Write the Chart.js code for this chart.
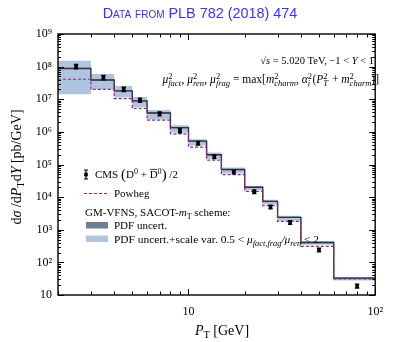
<!DOCTYPE html>
<html>
<head>
<meta charset="utf-8">
<script src="https://cdn.jsdelivr.net/npm/chart.js@4/dist/chart.umd.min.js"></script>
<style>
  html, body { margin: 0; padding: 0; background: #fff; }
  #c { display: block; }
</style>
</head>
<body>
<canvas id="c" width="393" height="342"></canvas>
<script>
// bin edges in P_T (GeV)
const binEdges = [2, 3, 4, 5, 6, 8, 10, 12.5, 15, 20, 25, 30, 40, 60, 100];
// CMS data points (bin centres)
const cmsPt = [2.5, 3.5, 4.5, 5.5, 7, 9, 11.25, 13.75, 17.5, 22.5, 27.5, 35, 50, 80];
const cmsValues = [1.01e8, 4.65e7, 2.03e7, 9.5e6, 3.6e6, 1.1e6, 4.5e5, 1.75e5, 5.9e4, 1.48e4, 5.0e3, 1.68e3, 243, 19];
const cmsErrors = [1.6e7, 7e6, 3e6, 1.4e6, 5e5, 1.6e5, 6e4, 2.3e4, 7.5e3, 1.9e3, 650, 220, 32, 2.6];
// GM-VFNS central + bands
const gmvfns = [8.8e7, 3.9e7, 1.8e7, 8.9e6, 3.8e6, 1.35e6, 5.2e5, 2.0e5, 7.0e4, 2.0e4, 7.4e3, 2.4e3, 407, 33];
const pdfUp = [9.2e7, 4.08e7, 1.88e7, 9.3e6, 3.97e6, 1.41e6, 5.43e5, 2.09e5, 7.3e4, 2.09e4, 7.73e3, 2.51e3, 425, 34.5];
const pdfDown = [8.4e7, 3.72e7, 1.72e7, 8.5e6, 3.63e6, 1.29e6, 4.97e5, 1.91e5, 6.7e4, 1.91e4, 7.07e3, 2.29e3, 389, 31.5];
const scaleUp = [1.51e8, 5.9e7, 2.57e7, 1.18e7, 4.7e6, 1.6e6, 5.9e5, 2.35e5, 8.1e4, 2.2e4, 8.3e3, 2.7e3, 445, 35.5];
const scaleDown = [1.43e7, 2.03e7, 1.13e7, 5.6e6, 2.4e6, 9.5e5, 3.8e5, 1.5e5, 5.3e4, 1.65e4, 5.9e3, 1.9e3, 345, 28];
// Powheg
const powheg = [4.1e7, 2.0e7, 1.05e7, 5.2e6, 2.3e6, 8.7e5, 3.4e5, 1.37e5, 4.9e4, 1.5e4, 5.5e3, 1.8e3, 309, 31];
// axis ticks
const xMajor = [10, 100];
const yMajor = [10, 1e2, 1e3, 1e4, 1e5, 1e6, 1e7, 1e8, 1e9];
const supDigits = {'1': '', '2': '²', '3': '³', '4': '⁴', '5': '⁵', '6': '⁶', '7': '⁷', '8': '⁸', '9': '⁹'};

const LIGHT = '#afc4df';
const DARK = '#6e7f93';
const LINE = '#333333';
const PURPLE = '#8e2a8e';
const SERIF = '"Liberation Serif", "DejaVu Serif", serif';
const SUB = 0.74;

// histogram steps: one point per bin edge
function steps(vals) {
    return binEdges.map((x, i) => ({x: x, y: vals[Math.min(i, vals.length - 1)]}));
}

function logLabel(v) {
    const e = Math.round(Math.log10(v));
    return e === 1 ? '10' : '10' + supDigits[String(e)];
}

// rich text: segments [text, flags] ; i=italic, u=sup, d=sub, o=overline, b=big
function richWidth(ctx, segs, size) {
    let w = 0;
    segs.forEach(s => { w += segW(ctx, s, size); });
    return w;
}
function segFont(flags, size) {
    let sz = size;
    if (flags.includes('u') || flags.includes('d')) sz = size * SUB;
    if (flags.includes('b')) sz = size * 1.35;
    return (flags.includes('i') ? 'italic ' : '') + sz.toFixed(1) + 'px ' + SERIF;
}
function segW(ctx, s, size) {
    const flags = s[1] || '';
    if (flags === 'ud') {
        const parts = s[0].split('|');
        ctx.font = segFont('u', size);
        const a = ctx.measureText(parts[0]).width;
        ctx.font = segFont('d', size);
        const b = ctx.measureText(parts[1]).width;
        return Math.max(a, b) + 0.5;
    }
    ctx.font = segFont(flags, size);
    return ctx.measureText(s[0]).width;
}
function drawRich(ctx, segs, x, y, align, size) {
    const total = richWidth(ctx, segs, size);
    let cx = x;
    if (align === 'right') cx = x - total;
    if (align === 'center') cx = x - total / 2;
    ctx.textAlign = 'left';
    ctx.textBaseline = 'alphabetic';
    segs.forEach(s => {
        const flags = s[1] || '';
        const w = segW(ctx, s, size);
        if (flags === 'ud') {
            const parts = s[0].split('|');
            ctx.font = segFont('u', size);
            ctx.fillText(parts[0], cx, y - size * 0.38);
            ctx.font = segFont('id', size);
            ctx.fillText(parts[1], cx, y + size * 0.24);
        } else {
            ctx.font = segFont(flags, size);
            let dy = 0;
            if (flags.includes('u')) dy = -size * 0.38;
            if (flags.includes('d')) dy = size * 0.24;
            if (flags.includes('b')) dy = size * 0.12;
            ctx.fillText(s[0], cx, y + dy);
            if (flags.includes('o')) {
                ctx.save();
                ctx.lineWidth = 0.8;
                ctx.beginPath();
                ctx.moveTo(cx + 0.5, y - size * 0.78);
                ctx.lineTo(cx + w - 0.5, y - size * 0.78);
                ctx.stroke();
                ctx.restore();
            }
        }
        cx += w;
    });
}

const decorPlugin = {
    id: 'decor',
    afterDatasetsDraw(chart) {
        const ctx = chart.ctx;
        const xs = chart.scales.x, ys = chart.scales.y;
        const a = chart.chartArea;
        ctx.save();

        // CMS error bars
        ctx.strokeStyle = '#000';
        ctx.fillStyle = '#000';
        ctx.lineWidth = 1.3;
        cmsPt.forEach((pt, i) => {
            const px = xs.getPixelForValue(pt);
            const py = ys.getPixelForValue(cmsValues[i]);
            const y1 = ys.getPixelForValue(cmsValues[i] + cmsErrors[i]);
            const y2 = ys.getPixelForValue(cmsValues[i] - cmsErrors[i]);
            ctx.beginPath();
            ctx.moveTo(px, y1); ctx.lineTo(px, y2);
            ctx.moveTo(px - 2.2, y1); ctx.lineTo(px + 2.2, y1);
            ctx.moveTo(px - 2.2, y2); ctx.lineTo(px + 2.2, y2);
            ctx.stroke();
            ctx.fillRect(px - 1.8, py - 1.8, 3.6, 3.6);
        });

        // frame
        ctx.strokeStyle = '#000';
        ctx.lineWidth = 1.4;
        ctx.strokeRect(a.left, a.top, a.right - a.left, a.bottom - a.top);

        // inward ticks
        ctx.lineWidth = 1;
        ctx.beginPath();
        for (let d = 1; d <= 100; d *= 10) {
            for (let m = 1; m <= 9; m++) {
                const v = m * d;
                if (v < 2 || v > 100) continue;
                const px = Math.round(xs.getPixelForValue(v)) + 0.5;
                const len = m === 1 ? 6 : 3.5;
                ctx.moveTo(px, a.bottom); ctx.lineTo(px, a.bottom - len);
                ctx.moveTo(px, a.top); ctx.lineTo(px, a.top + len);
            }
        }
        for (let d = 10; d <= 1e9; d *= 10) {
            for (let m = 1; m <= 9; m++) {
                const v = m * d;
                if (v > 1e9) continue;
                const py = Math.round(ys.getPixelForValue(v)) + 0.5;
                const len = m === 1 ? 6 : 3;
                ctx.moveTo(a.left, py); ctx.lineTo(a.left + len, py);
                ctx.moveTo(a.right, py); ctx.lineTo(a.right - len, py);
            }
        }
        ctx.stroke();

        // title, sized to span the same width as the original
        const title = 'Data from PLB 782 (2018) 474';
        let ts = 14;
        ctx.font = 'small-caps ' + ts + 'px "Liberation Sans", Arial, sans-serif';
        ts = ts * 196 / ctx.measureText(title).width;
        ctx.font = 'small-caps ' + ts.toFixed(1) + 'px "Liberation Sans", Arial, sans-serif';
        ctx.fillStyle = '#3636ee';
        ctx.textAlign = 'center';
        ctx.textBaseline = 'alphabetic';
        ctx.fillText(title, 200, 18);

        ctx.fillStyle = '#000';
        // top right annotations
        drawRich(ctx, [['√', ''], ['s', 'i'], [' = 5.020 TeV, −1 < ', ''], ['Y', 'i'], [' < 1', '']], 374, 64, 'right', 10.5);
        drawRich(ctx, [
            ['μ', 'i'], ['2|fact', 'ud'], [', ', ''], ['μ', 'i'], ['2|ren', 'ud'], [', ', ''], ['μ', 'i'], ['2|frag', 'ud'],
            [' = max[', ''], ['m', 'i'], ['2|charm', 'ud'], [', ', ''], ['α', 'i'], ['2|i', 'ud'], ['(', ''],
            ['P', 'i'], ['2|T', 'ud'], [' + ', ''], ['m', 'i'], ['2|charm', 'ud'], [')]', '']
        ], 379, 83, 'right', 11.5);

        // legend
        const lx = 86;
        ctx.lineWidth = 1.2;
        ctx.beginPath();
        ctx.moveTo(lx, 170); ctx.lineTo(lx, 179);
        ctx.moveTo(lx - 2, 170); ctx.lineTo(lx + 2, 170);
        ctx.moveTo(lx - 2, 179); ctx.lineTo(lx + 2, 179);
        ctx.stroke();
        ctx.fillRect(lx - 1.8, 172.7, 3.6, 3.6);
        drawRich(ctx, [['CMS ', ''], ['(', 'b'], ['D', ''], ['0', 'u'], [' + ', ''], ['D', 'o'], ['0', 'u'], [')', 'b'], [' /2', '']], 95, 178, 'left', 11);

        ctx.strokeStyle = PURPLE;
        ctx.lineWidth = 1.2;
        ctx.setLineDash([3, 2]);
        ctx.beginPath();
        ctx.moveTo(84, 193.5); ctx.lineTo(108, 193.5);
        ctx.stroke();
        ctx.setLineDash([]);
        drawRich(ctx, [['Powheg', '']], 114, 197, 'left', 11);

        drawRich(ctx, [['GM-VFNS, SACOT-', ''], ['m', 'i'], ['T', 'd'], [' scheme:', '']], 85, 216, 'left', 11);

        ctx.fillStyle = DARK;
        ctx.fillRect(86, 222, 22, 6.5);
        ctx.fillStyle = LIGHT;
        ctx.fillRect(86, 235.5, 22, 6.5);
        ctx.fillStyle = '#000';
        drawRich(ctx, [['PDF uncert.', '']], 114, 229, 'left', 11);
        drawRich(ctx, [['PDF uncert.+scale var. 0.5 < ', ''], ['μ', 'i'], ['fact,frag', 'id'], ['/', 'i'], ['μ', 'i'], ['ren', 'id'], [' < 2', '']], 114, 243, 'left', 11.4);

        // axis titles
        drawRich(ctx, [['P', 'i'], ['T', 'd'], [' [GeV]', '']], 222, 335, 'center', 14);
        ctx.save();
        ctx.translate(21, 167);
        ctx.rotate(-Math.PI / 2);
        drawRich(ctx, [['d', ''], ['σ', 'i'], [' /d', ''], ['P', 'i'], ['T', 'd'], ['d', ''], ['Y', 'i'], [' [pb/GeV]', '']], 0, 0, 'center', 14);
        ctx.restore();

        ctx.restore();
    }
};

const ctx = document.getElementById('c').getContext('2d');
new Chart(ctx, {
    type: 'line',
    data: {
        datasets: [
            { data: steps(scaleUp), stepped: 'before', fill: '+1', backgroundColor: LIGHT, borderWidth: 0, pointRadius: 0, order: 6 },
            { data: steps(scaleDown), stepped: 'before', fill: false, borderWidth: 0, pointRadius: 0, order: 6 },
            { data: steps(pdfUp), stepped: 'before', fill: '+1', backgroundColor: DARK, borderWidth: 0, pointRadius: 0, order: 5 },
            { data: steps(pdfDown), stepped: 'before', fill: false, borderWidth: 0, pointRadius: 0, order: 5 },
            { data: steps(gmvfns), stepped: 'before', fill: false, borderColor: LINE, borderWidth: 1.4, pointRadius: 0, order: 2 },
            { data: steps(powheg), stepped: 'before', fill: false, borderColor: PURPLE, borderWidth: 1.2, borderDash: [3, 2], pointRadius: 0, order: 1 }
        ]
    },
    options: {
        responsive: false,
        animation: false,
        devicePixelRatio: 1,
        layout: { padding: { top: 34, right: 7, left: 0, bottom: 0 } },
        plugins: { legend: { display: false }, tooltip: { enabled: false }, title: { display: false } },
        scales: {
            x: {
                type: 'logarithmic',
                min: 2,
                max: 100,
                grid: { display: false, drawTicks: false },
                border: { display: false },
                afterFit: s => { s.height = 47; },
                afterBuildTicks: s => { s.ticks = xMajor.map(v => ({value: v})); },
                ticks: {
                    autoSkip: false,
                    maxRotation: 0,
                    padding: 10,
                    color: '#000',
                    font: { family: SERIF, size: 12 },
                    callback: v => logLabel(v)
                }
            },
            y: {
                type: 'logarithmic',
                min: 10,
                max: 1e9,
                grid: { display: false, drawTicks: false },
                border: { display: false },
                afterFit: s => { s.width = 58; },
                afterBuildTicks: s => { s.ticks = yMajor.map(v => ({value: v})); },
                ticks: {
                    autoSkip: false,
                    padding: 6,
                    color: '#000',
                    font: { family: SERIF, size: 12 },
                    callback: v => logLabel(v)
                }
            }
        }
    },
    plugins: [decorPlugin]
});
</script>
</body>
</html>
